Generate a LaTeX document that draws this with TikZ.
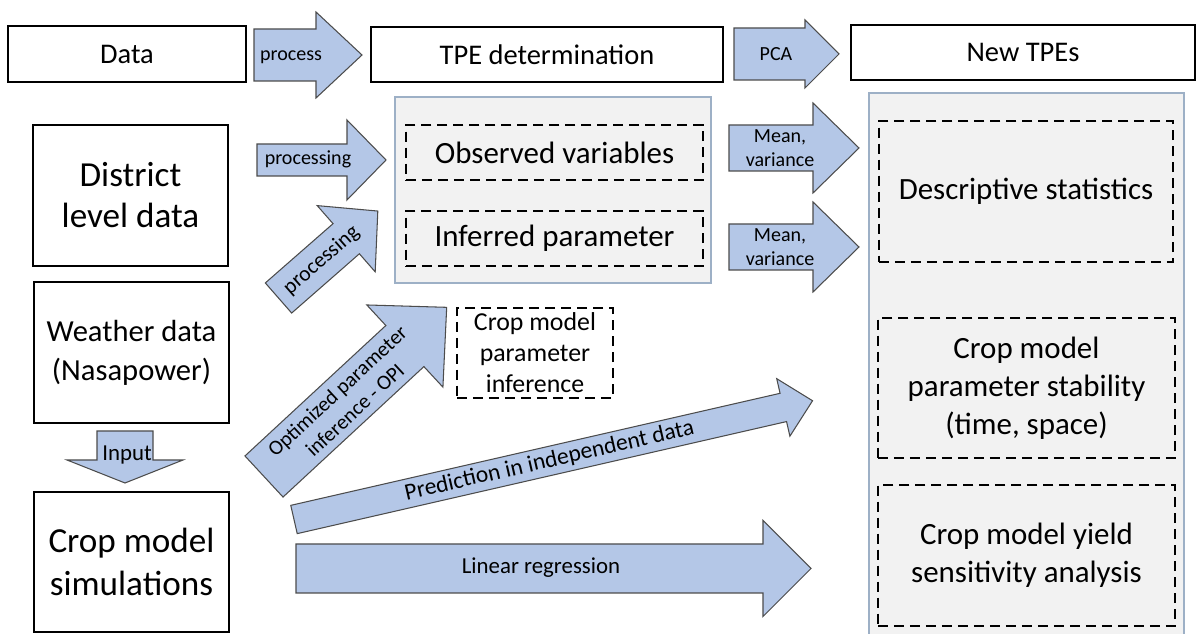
\documentclass[tikz,border=0pt]{standalone}
\usepackage{fontspec}
\setmainfont{Carlito}
\definecolor{arrowblue}{HTML}{B4C7E7}
\definecolor{panelgray}{HTML}{F2F2F2}
\definecolor{paneledge}{HTML}{9DB0C6}

% block arrow: length/half shaft/half head/head length, tail at the origin
\tikzset{
  pics/fatarrow/.style args={#1/#2/#3/#4}{code={
    \draw[arrowline] (0,-#2) -- ({#1-#4},-#2) -- ({#1-#4},-#3) -- (#1,0)
      -- ({#1-#4},#3) -- ({#1-#4},#2) -- (0,#2) -- cycle;
  }},
}

\begin{document}
\begin{tikzpicture}[
  titlebox/.style={rectangle, draw, line width=1.4pt, minimum height=1.1cm, font=\fontsize{16.2}{19}\selectfont},
  srcbox/.style={rectangle, draw, line width=1.4pt, minimum width=3.9cm, minimum height=2.82cm, align=center},
  dashbox/.style={rectangle, draw, line width=1.4pt, dash pattern=on 5.7pt off 3.4pt, align=center, font=\fontsize{17.6}{21.6}\selectfont},
  panel/.style={rectangle, draw=paneledge, fill=panelgray, line width=0.6pt},
  arrowline/.style={draw=black!70, fill=arrowblue, line width=0.6pt, line join=miter},
  alabel/.style={align=center, inner sep=0pt, font=\fontsize{11.4}{13.7}\selectfont},
]
\useasboundingbox (0,0) rectangle (24.06,-12.68);

% header row
\node[titlebox, minimum width=4.76cm, minimum height=1.12cm] (data) at (2.54,-1.08) {Data};
\node[titlebox, minimum width=7.04cm] (tpe) at (10.94,-1.09) {TPE determination};
\node[titlebox, minimum width=6.88cm] (newtpe) at (20.46,-1.05) {New TPEs};

% grey panels
\node[panel, minimum width=6.32cm, minimum height=3.72cm] (tpepanel) at (11.06,-3.80) {};
\node[panel, minimum width=6.30cm, minimum height=11.34cm] (newpanel) at (20.53,-7.53) {};

% data sources
\node[srcbox, font=\fontsize{20}{23.3}\selectfont] (district) at (2.61,-3.91) {District\\level data};
\node[srcbox, font=\fontsize{17.4}{22.2}\selectfont] (weather) at (2.63,-7.05) {Weather data\\(Nasapower)};
\node[srcbox, minimum height=2.80cm, font=\fontsize{20}{24}\selectfont] (cropsim) at (2.63,-11.24) {Crop model\\simulations};

% TPE determination
\node[dashbox, minimum width=5.94cm, minimum height=1.10cm] (observed) at (11.09,-3.05) {Observed variables};
\node[dashbox, minimum width=5.94cm, minimum height=1.10cm] (inferred) at (11.09,-4.77) {Inferred parameter};
\node[dashbox, minimum width=3.12cm, minimum height=1.80cm, inner ysep=0pt, font=\fontsize{14.7}{17.6}\selectfont] (inference) at (10.70,-7.06) {Crop model\\parameter\\inference};

% new TPEs
\node[dashbox, minimum width=5.88cm, minimum height=2.82cm] (descriptive) at (20.52,-3.83) {Descriptive statistics};
\node[dashbox, minimum width=5.94cm, minimum height=2.80cm] (stability) at (20.53,-7.76) {Crop model\\parameter stability\\(time, space)};
\node[dashbox, minimum width=5.94cm, minimum height=2.82cm] (yield) at (20.53,-11.11) {Crop model yield\\sensitivity analysis};

% block arrows
\pic at (5.08,-1.10) {fatarrow=2.16/0.52/0.86/0.92};
\pic at (14.68,-1.08) {fatarrow=2.10/0.52/0.68/0.68};
\pic at (5.14,-3.20) {fatarrow=2.58/0.32/0.80/0.78};
\pic[rotate=41.2] at (5.57,-5.96) {fatarrow=2.64/0.40/0.88/0.84};
\pic at (14.58,-2.96) {fatarrow=2.60/0.46/0.90/0.92};
\pic at (14.58,-4.94) {fatarrow=2.60/0.46/0.90/0.92};
\pic[rotate=42.8] at (5.28,-9.53) {fatarrow=4.98/0.56/1.12/1.14};
\pic[rotate=12.9] at (5.88,-10.39) {fatarrow=10.64/0.29/0.59/0.60};
\pic at (5.92,-11.37) {fatarrow=10.30/0.49/0.96/0.96};
\pic[rotate=-90] at (2.50,-8.62) {fatarrow=1.04/0.56/1.16/0.46};

% arrow labels
\node[alabel] (lprocess) at (5.82,-1.14) {process};
\node[alabel] (lpca) at (15.52,-1.08) {PCA};
\node[alabel] (lproc1) at (6.16,-3.18) {processing};
\node[alabel, rotate=41.2, font=\fontsize{12.3}{14}\selectfont] (lproc2) at (6.43,-5.21) {processing};
\node[alabel] (lmean1) at (15.60,-2.96) {Mean,\\variance};
\node[alabel] (lmean2) at (15.60,-4.94) {Mean,\\variance};
\node[alabel, rotate=42.8, font=\fontsize{11.9}{14.7}\selectfont] (lopi) at (6.92,-8.01) {Optimized parameter\\inference - OPI};
\node[alabel, rotate=12.9, font=\fontsize{13.4}{16}\selectfont] (lpred) at (10.99,-9.22) {Prediction in independent data};
\node[alabel, font=\fontsize{13}{16}\selectfont] (llinreg) at (10.82,-11.36) {Linear regression};
\node[alabel, font=\fontsize{13}{16}\selectfont] (linput) at (2.54,-9.10) {Input};

\end{tikzpicture}
\end{document}
